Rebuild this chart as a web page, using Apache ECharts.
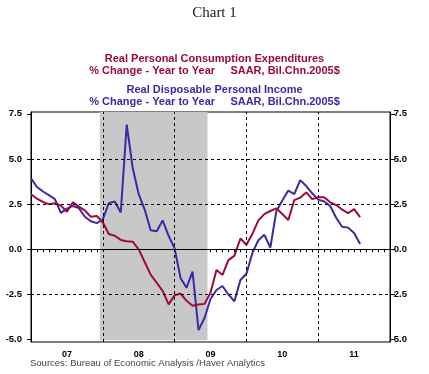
<!DOCTYPE html>
<html>
<head>
<meta charset="utf-8">
<script src="https://cdn.jsdelivr.net/npm/echarts@6/dist/echarts.min.js"></script>
<style>
html,body{margin:0;padding:0;background:#fff;}
#chart{width:429px;height:374px;}
</style>
</head>
<body>
<div id="chart"></div>
<script>
// Monthly data, first observation = Jan 2007
const firstMonth = '2007-01';
// Real Personal Consumption Expenditures, % change y/y
const pce = [3.05, 2.8, 2.62, 2.5, 2.55, 2.42, 2.08, 2.6, 2.36, 2.15, 1.8, 1.85,
  1.5, 0.85, 0.75, 0.52, 0.45, 0.42, 0.0, -0.7, -1.4, -1.85, -2.3, -3.05,
  -2.55, -2.45, -2.85, -3.12, -3.05, -3.02, -2.4, -1.15, -1.42, -0.6, -0.35, 0.6,
  0.25, 0.85, 1.6, 1.95, 2.12, 2.27, 1.95, 1.62, 2.72, 2.86, 3.15, 2.78,
  2.88, 2.88, 2.6, 2.45, 2.2, 2.0, 2.22, 1.78];
// Real Disposable Personal Income, % change y/y
const dpi = [3.93, 3.45, 3.2, 3.0, 2.78, 2.02, 2.25, 2.4, 2.28, 1.8, 1.55, 1.45,
  1.65, 2.55, 2.65, 2.04, 6.9, 4.5, 3.05, 2.2, 1.05, 1.0, 1.6, 0.75,
  0.05, -1.6, -2.12, -1.24, -4.47, -3.8, -2.75, -2.25, -2.03, -2.5, -2.88, -1.7,
  -1.35, -0.2, 0.5, 0.8, 0.1, 2.1, 2.7, 3.25, 3.05, 3.83, 3.5, 3.1,
  2.75, 2.65, 2.4, 1.75, 1.25, 1.2, 0.9, 0.3];
const yearLabels = ['07', '08', '09', '10', '11'];
const yTicks = [-5, -2.5, 0, 2.5, 5, 7.5];
const recessionStart = '2007-12';
const recessionEnd = '2009-06';

function monthIndex(s) {
  const [y0, m0] = firstMonth.split('-').map(Number);
  const [y, m] = s.split('-').map(Number);
  return (y - y0) * 12 + (m - m0);
}
const toPts = arr => arr.map((v, i) => [i, v]);
const labelPos = yearLabels.map((_, k) => k * 12 + 6);
const yearBounds = yearLabels.slice(1).map((_, k) => (k + 1) * 12);
const xMax = yearLabels.length * 12;

const RED = '#9e0b36';
const BLUE = '#3b29a6';
const dash = [3, 3];

const chart = echarts.init(document.getElementById('chart'), null, {renderer: 'canvas'});
const subStyle = (c) => ({fontFamily: 'Liberation Sans, Arial, sans-serif', fontSize: 11, fontWeight: 'bold', color: c, lineHeight: 12});
chart.setOption({
  animation: false,
  backgroundColor: '#fff',
  title: [
    {text: 'Chart 1', left: 'center', top: 5, padding: 0,
     textStyle: {fontFamily: 'Liberation Serif, Times New Roman, serif', fontSize: 15, fontWeight: 'normal', color: '#222', lineHeight: 16}},
    {text: 'Real Personal Consumption Expenditures', left: 'center', top: 53, padding: 0, textStyle: subStyle(RED)},
    {text: '% Change - Year to Year     SAAR, Bil.Chn.2005$', left: 'center', top: 65, padding: 0, textStyle: subStyle(RED)},
    {text: 'Real Disposable Personal Income', left: 'center', top: 84, padding: 0, textStyle: subStyle(BLUE)},
    {text: '% Change - Year to Year     SAAR, Bil.Chn.2005$', left: 'center', top: 96, padding: 0, textStyle: subStyle(BLUE)},
    {text: 'Sources: Bureau of Economic Analysis /Haver Analytics', left: 30, top: 358, padding: 0,
     textStyle: {fontFamily: 'Liberation Sans, Arial, sans-serif', fontSize: 9.5, fontWeight: 'normal', color: '#444', lineHeight: 11}}
  ],
  grid: {left: 31, right: 39, top: 112, bottom: 32, show: true, borderColor: '#000', borderWidth: 1, backgroundColor: 'transparent'},
  xAxis: {
    type: 'value', min: 0, max: xMax, interval: 12,
    axisLine: {show: true, lineStyle: {color: '#000', width: 1}},
    axisTick: {show: true, length: 4, lineStyle: {color: '#000'}},
    minorTick: {show: true, splitNumber: 12, length: 3, lineStyle: {color: '#000'}},
    splitLine: {show: false},
    axisLabel: {customValues: labelPos, formatter: v => yearLabels[Math.round((v - 6) / 12)],
      fontFamily: 'Liberation Sans, Arial, sans-serif', fontSize: 9, fontWeight: 'bold', color: '#000', margin: 8}
  },
  yAxis: [
    {type: 'value', min: -5.13, max: 7.6, position: 'left',
     axisLine: {show: true, lineStyle: {color: '#000'}},
     axisTick: {show: true, customValues: yTicks, length: 4, lineStyle: {color: '#000'}},
     axisLabel: {customValues: yTicks, formatter: v => v.toFixed(1), fontFamily: 'Liberation Sans, Arial, sans-serif',
       fontSize: 9.5, fontWeight: 'bold', color: '#000', margin: 9},
     splitLine: {show: false}},
    {type: 'value', min: -5.13, max: 7.6, position: 'right',
     axisLine: {show: true, lineStyle: {color: '#000'}},
     axisTick: {show: true, customValues: yTicks, length: 5, lineStyle: {color: '#000'}},
     axisLabel: {customValues: yTicks, formatter: v => v.toFixed(1), fontFamily: 'Liberation Sans, Arial, sans-serif',
       fontSize: 9.5, fontWeight: 'bold', color: '#000', margin: 17, align: 'right'},
     splitLine: {show: false}}
  ],
  series: [
    {type: 'line', name: 'recession', data: [], z: -1, silent: true,
     markArea: {silent: true, itemStyle: {color: '#c8c8c8'},
       data: [[{xAxis: monthIndex(recessionStart) + 0.5, yAxis: -5.03}, {xAxis: monthIndex(recessionEnd) + 0.5, yAxis: 7.6}]]}},
    {type: 'line', name: 'grid', data: [], z: 1, silent: true,
     markLine: {silent: true, symbol: 'none', label: {show: false},
       lineStyle: {color: '#000', width: 1, type: dash},
       data: [
         ...yTicks.filter(v => v !== 0 && v !== 7.5 && v !== -5).map(v => ({yAxis: v})),
         {yAxis: 0, lineStyle: {type: 'solid', color: '#000', width: 1}},
         ...yearBounds.map(v => ({xAxis: v}))
       ]}},
    {type: 'line', name: 'Real Disposable Personal Income', data: toPts(dpi), z: 3, showSymbol: false,
     lineStyle: {color: BLUE, width: 2}, itemStyle: {color: BLUE}},
    {type: 'line', name: 'Real Personal Consumption Expenditures', data: toPts(pce), z: 4, showSymbol: false,
     lineStyle: {color: RED, width: 2}, itemStyle: {color: RED}}
  ]
});
</script>
</body>
</html>
